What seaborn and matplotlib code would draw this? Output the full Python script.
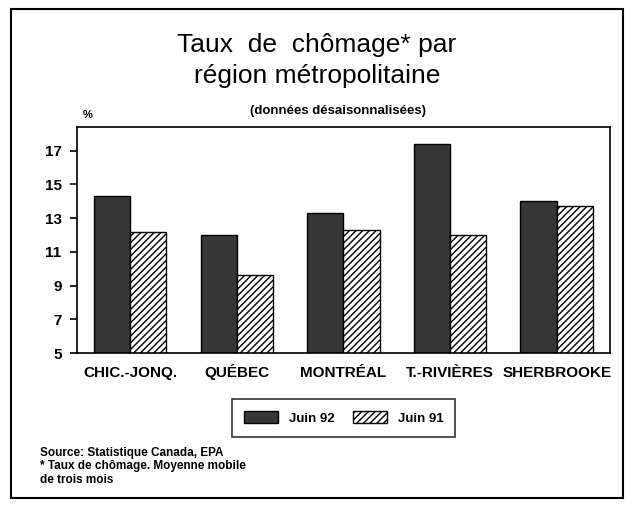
import pandas as pd
import seaborn as sns
import matplotlib
matplotlib.use('Agg')
import matplotlib.pyplot as plt
from matplotlib.patches import Patch, Rectangle

# Data
regions = ['CHIC.-JONQ.', 'QUÉBEC', 'MONTRÉAL', 'T.-RIVIÈRES', 'SHERBROOKE']
juin92 = [14.3, 12.0, 13.3, 17.4, 14.0]
juin91 = [12.2, 9.6, 12.3, 12.0, 13.7]
periods = ['Juin 92', 'Juin 91']
yticks = [5, 7, 9, 11, 13, 15, 17]

df = pd.DataFrame({
    'region': regions * 2,
    'taux': juin92 + juin91,
    'periode': [periods[0]] * len(regions) + [periods[1]] * len(regions),
})

sns.set_style('white')
plt.rcParams['font.family'] = ['Liberation Sans', 'DejaVu Sans']
plt.rcParams['text.color'] = 'black'
plt.rcParams['xtick.color'] = 'black'
plt.rcParams['ytick.color'] = 'black'

fig = plt.figure(figsize=(6.25, 5.08), dpi=100)
ax = fig.add_axes([0.123, 0.305, 0.853, 0.445])

sns.barplot(data=df, x='region', y='taux', hue='periode', hue_order=periods,
            palette={'Juin 92': '#363636', 'Juin 91': 'white'},
            width=0.68, edgecolor='black', linewidth=1.0, ax=ax, legend=False)

# hatch the Juin 91 bars
for bar in ax.containers[1]:
    bar.set_hatch('/////')
    bar.set_facecolor('white')

ax.set_ylim(5, 18.4)
ax.set_yticks(yticks)
ax.set_xlim(-0.5, len(regions) - 0.5)
ax.set_xlabel('')
ax.set_ylabel('')
for s in ax.spines.values():
    s.set_visible(True)
    s.set_color('black')
    s.set_linewidth(1.2)
ax.tick_params(axis='y', left=True, length=5, width=1.2, labelsize=11, pad=6)
ax.tick_params(axis='x', bottom=False, labelsize=11, pad=14)
for lbl in ax.get_xticklabels():
    lbl.set_fontweight('bold')
    lbl.set_va('baseline')
for lbl in ax.get_yticklabels():
    lbl.set_fontweight('bold')

fig.text(0.14, 0.768, '%', fontsize=8, fontweight='bold', ha='center')

# titles
fig.text(0.507, 0.912, 'Taux  de  chômage* par', fontsize=19, ha='center', va='center')
fig.text(0.507, 0.85, 'région métropolitaine', fontsize=19, ha='center', va='center')
fig.text(0.54, 0.782, '(données désaisonnalisées)', fontsize=9.5, fontweight='bold',
         ha='center', va='center')

# legend
handles = [Patch(facecolor='#363636', edgecolor='black', label=periods[0]),
           Patch(facecolor='white', edgecolor='black', hatch='/////', label=periods[1])]
leg = fig.legend(handles=handles, loc='center', bbox_to_anchor=(0.55, 0.177), ncol=2,
                 frameon=True, fancybox=False, edgecolor='black',
                 handlelength=2.6, handleheight=1.0, columnspacing=1.4,
                 borderpad=0.9, prop={'weight': 'bold', 'size': 9.5})
leg.get_frame().set_linewidth(1.2)

# source notes
notes = ['Source: Statistique Canada, EPA',
         '* Taux de chômage. Moyenne mobile',
         'de trois mois']
for i, line in enumerate(notes):
    fig.text(0.064, 0.108 - i * 0.026, line, fontsize=8.5, fontweight='bold', va='center')

# outer frame
fig.patches.append(Rectangle((0.018, 0.02), 0.978, 0.962, transform=fig.transFigure,
                             fill=False, edgecolor='black', linewidth=1.5))

fig.savefig('out.png', dpi=100)
